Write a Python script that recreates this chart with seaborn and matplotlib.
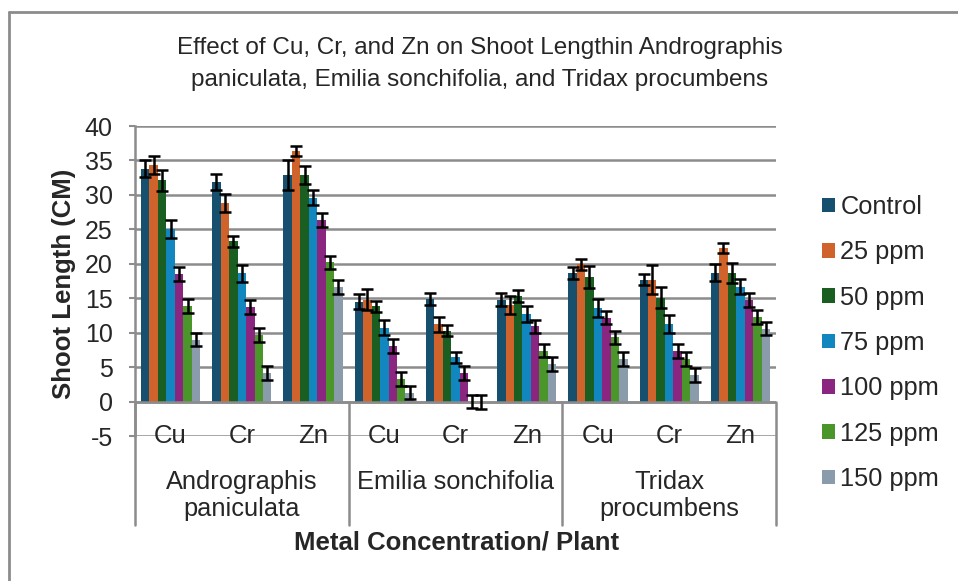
import matplotlib

matplotlib.use("Agg")
import matplotlib.pyplot as plt
import matplotlib.transforms as mtransforms
from matplotlib.lines import Line2D
import numpy as np
import pandas as pd
import seaborn as sns

# ---------------------------------------------------------------------------
# data
# ---------------------------------------------------------------------------
plants = ["Andrographis\npaniculata", "Emilia sonchifolia", "Tridax\nprocumbens"]
metals = ["Cu", "Cr", "Zn"]
levels = ["Control", "25 ppm", "50 ppm", "75 ppm", "100 ppm", "125 ppm", "150 ppm"]

# one value per plant/metal combination: AP-Cu, AP-Cr, AP-Zn, ES-Cu, ... TP-Zn
control = [33.8, 31.9, 32.9, 14.5, 14.9, 14.8, 18.7, 17.7, 18.7]
ppm25 = [34.3, 28.8, 36.4, 14.8, 11.2, 14.0, 19.9, 17.7, 22.3]
ppm50 = [32.1, 23.3, 32.9, 13.8, 10.3, 15.3, 18.1, 15.1, 18.6]
ppm75 = [25.1, 18.6, 29.6, 10.7, 6.4, 12.7, 13.6, 11.3, 16.7]
ppm100 = [18.5, 13.7, 26.3, 8.1, 4.2, 10.9, 12.2, 7.3, 14.7]
ppm125 = [13.9, 9.7, 20.2, 3.3, 0.0, 7.4, 9.3, 6.2, 12.3]
ppm150 = [9.0, 4.2, 16.6, 1.3, -0.1, 5.4, 6.2, 3.9, 10.6]

control_err = [1.2, 1.2, 2.2, 1.1, 0.85, 1.0, 0.9, 0.8, 1.2]
ppm25_err = [1.3, 1.3, 0.75, 1.5, 1.1, 1.3, 0.8, 2.1, 0.75]
ppm50_err = [1.5, 0.8, 1.3, 0.8, 0.75, 0.85, 1.6, 1.5, 1.45]
ppm75_err = [1.3, 1.2, 1.1, 1.1, 0.85, 1.2, 1.3, 1.3, 1.15]
ppm100_err = [1.0, 1.0, 1.0, 1.0, 1.0, 1.0, 1.0, 1.0, 1.0]
ppm125_err = [1.0, 1.0, 1.0, 1.0, 1.0, 1.0, 1.0, 1.0, 1.0]
ppm150_err = [1.0, 1.0, 1.0, 1.0, 1.0, 1.0, 1.0, 1.0, 1.0]

colors = ["#17506f", "#d0622b", "#1a5e22", "#1287bf", "#8b2680", "#4a962a", "#8a9bab"]

series = [control, ppm25, ppm50, ppm75, ppm100, ppm125, ppm150]
errors = [control_err, ppm25_err, ppm50_err, ppm75_err, ppm100_err, ppm125_err, ppm150_err]

keys = [f"{p}|{m}" for p in plants for m in metals]
rows = []
for lvl, vals, errs in zip(levels, series, errors):
    for k, v, e in zip(keys, vals, errs):
        rows.append({"key": k, "level": lvl, "length": v, "err": e})
df = pd.DataFrame(rows)

# ---------------------------------------------------------------------------
# plot
# ---------------------------------------------------------------------------
sns.set_style("white")
plt.rcParams["font.family"] = ["Liberation Sans", "DejaVu Sans"]
plt.rcParams["axes.unicode_minus"] = False

fig = plt.figure(figsize=(9.58, 5.81), dpi=100)
ax = fig.add_axes([135 / 958, 1 - 436 / 581, (776 - 135) / 958, (436 - 126) / 581])

sns.barplot(data=df, x="key", y="length", hue="level", order=keys,
            hue_order=levels, palette=colors, errorbar=None, width=0.83,
            saturation=1, ax=ax, linewidth=0)

# error bars on each bar
for cont, lvl in zip(ax.containers, levels):
    sub = df[df["level"] == lvl].set_index("key").loc[keys]
    xs = [b.get_x() + b.get_width() / 2 for b in cont]
    ax.errorbar(xs, sub["length"], yerr=sub["err"], fmt="none", ecolor="black",
                elinewidth=1.8, capsize=4.2, capthick=1.8, zorder=5)

grid_c = "#8c8c8c"
ax.set_ylim(-5, 40)
ax.set_xlim(-0.5, len(keys) - 0.5)
ax.set_yticks(np.arange(-5, 41, 5))
ax.yaxis.grid(True, color=grid_c, linewidth=1.8)
ax.set_axisbelow(True)
for s in ["top", "right", "bottom"]:
    ax.spines[s].set_visible(False)
ax.spines["left"].set_color(grid_c)
ax.spines["left"].set_linewidth(1.8)
ax.tick_params(axis="y", length=4, width=1.5, color=grid_c, labelsize=18, pad=12,
               left=True)
ax.axhline(0, color=grid_c, linewidth=1.8, zorder=1)
ax.set_xticks([])
ax.set_xlabel("")
ax.set_ylabel("Shoot Length (CM)", fontsize=18.5, fontweight="bold")
ax.yaxis.set_label_coords(-0.092, 0.49)
ax.get_legend().remove()

# multi-level category axis
trans = mtransforms.blended_transform_factory(ax.transData, ax.transAxes)
for i, k in enumerate(keys):
    ax.text(i, -5, k.split("|")[1], ha="center", va="center", fontsize=18.5,
            transform=ax.transData, clip_on=False)
for j, p in enumerate(plants):
    ax.text(3 * j + 1, -0.11, p, ha="center", va="top", fontsize=18.3,
            linespacing=1.17, transform=trans, clip_on=False)
for xb in [-0.5, 2.5, 5.5, 8.5]:
    ax.add_line(Line2D([xb, xb], [5 / 45, -0.287], transform=trans, color=grid_c,
                       linewidth=1.8, clip_on=False))

fig.text(457 / 958, 1 - 543 / 581, "Metal Concentration/ Plant", ha="center",
         va="center", fontsize=18.5, fontweight="bold")
fig.text(480 / 958, 1 - 64 / 581,
         "Effect of Cu, Cr, and Zn on Shoot Lengthin Andrographis\n"
         "paniculata, Emilia sonchifolia, and Tridax procumbens",
         ha="center", va="center", fontsize=17.5, linespacing=1.62)

handles, labels = ax.get_legend_handles_labels()
fig.legend(handles, labels, loc="center left",
           bbox_to_anchor=(822 / 958, 1 - 343 / 581), frameon=False, fontsize=18.3,
           handlelength=0.52, handleheight=0.52, handletextpad=0.2,
           labelspacing=0.84, borderpad=0, borderaxespad=0)

# outer chart border (only top and left edges fall inside the picture)
fig.add_artist(Line2D([9 / 958, 9 / 958], [0, 1 - 12 / 581], color="#8c8c8c",
                      linewidth=2, transform=fig.transFigure))
fig.add_artist(Line2D([9 / 958, 1], [1 - 12 / 581, 1 - 12 / 581], color="#8c8c8c",
                      linewidth=2, transform=fig.transFigure))

fig.savefig("out.png", dpi=100)
